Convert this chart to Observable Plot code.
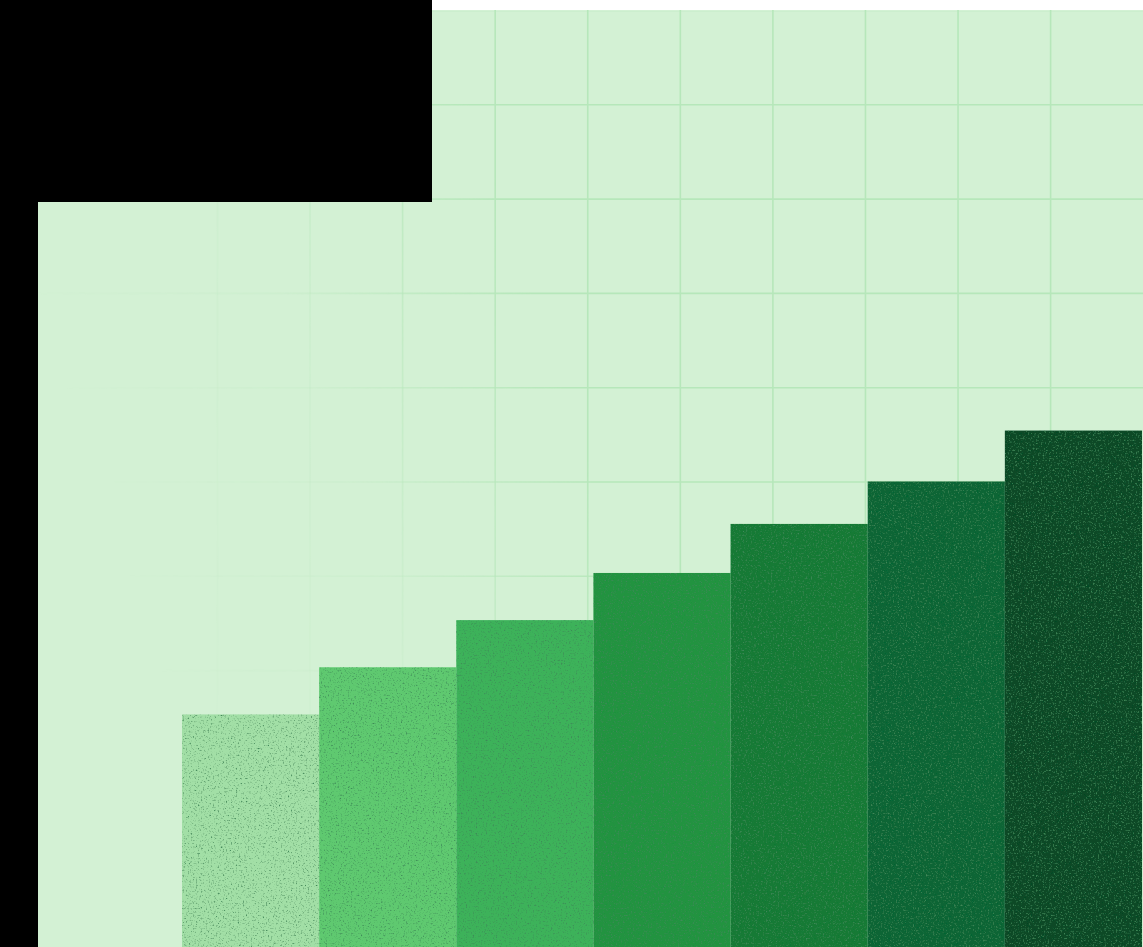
<!DOCTYPE html>
<html>
<head>
<meta charset="utf-8">
<script src="https://cdn.jsdelivr.net/npm/d3@7"></script>
<script src="https://cdn.jsdelivr.net/npm/@observablehq/plot@0.6"></script>
<style>
  html, body { margin: 0; padding: 0; background: #ffffff; overflow: hidden; width: 1143px; height: 947px; }
  #chart { position: absolute; left: 38px; top: 10px; }
  .blk { position: absolute; background: #000; z-index: 5; }
</style>
</head>
<body>
<div id="chart"></div>
<div class="blk" style="left:0;top:0;width:432px;height:202px"></div>
<div class="blk" style="left:0;top:0;width:38px;height:947px"></div>
<script>
// ---- data ----
const categories = ["1", "2", "3", "4", "5", "6", "7"];
const values = [2.53, 3.03, 3.53, 4.03, 4.55, 5.0, 5.54];
const colors = ["#a2dfa6", "#5fc970", "#3db25a", "#23933f", "#187a36", "#0f6535", "#0a4a26"];
const gridXTicks = [0.255, 0.93, 1.605, 2.28, 2.955, 3.63, 4.305, 4.98, 5.655, 6.33];
const gridYTicks = [1, 2, 3, 4, 5, 6, 7, 8, 9, 10];

const bars = categories.map((c, i) => ({category: c, start: i, end: i + 1, value: values[i]}));

const plot = Plot.plot({
  width: 1105,
  height: 937,
  margin: 0,
  style: {background: "#d3f1d4"},
  x: {type: "linear", domain: [0, 7], range: [144, 1104], axis: null},
  y: {type: "linear", domain: [0, 10], range: [943, 0], axis: null},
  color: {domain: categories, range: colors},
  marks: [
    Plot.ruleX(gridXTicks, {x: d => d, stroke: "#b6e7ba", strokeWidth: 1.6}),
    Plot.ruleY(gridYTicks, {y: d => d, stroke: "#b6e7ba", strokeWidth: 1.6}),
    Plot.rectY(bars, {x1: "start", x2: "end", y: "value", fill: "category", inset: 0})
  ]
});

document.getElementById("chart").appendChild(plot);

// grain texture + grid fade
const svg = d3.select(plot);
const defs = svg.insert("defs", ":first-child");
const grad = defs.append("linearGradient")
  .attr("id", "gridFade").attr("gradientUnits", "userSpaceOnUse")
  .attr("x1", 100).attr("y1", 600).attr("x2", 550).attr("y2", 450);
grad.append("stop").attr("offset", 0).attr("stop-color", "#fff").attr("stop-opacity", 0);
grad.append("stop").attr("offset", 0.5).attr("stop-color", "#fff").attr("stop-opacity", 0.18);
grad.append("stop").attr("offset", 1).attr("stop-color", "#fff").attr("stop-opacity", 1);
defs.append("mask").attr("id", "gridMask").attr("maskUnits", "userSpaceOnUse")
  .attr("x", 0).attr("y", 0).attr("width", 1105).attr("height", 937)
  .append("rect").attr("width", 1105).attr("height", 937).attr("fill", "url(#gridFade)");

const f = defs.append("filter").attr("id", "grain")
  .attr("x", 0).attr("y", 0).attr("width", 1).attr("height", 1);
f.append("feTurbulence").attr("type", "fractalNoise").attr("baseFrequency", 0.6)
  .attr("numOctaves", 3).attr("seed", 3).attr("result", "noise");
f.append("feColorMatrix").attr("in", "noise").attr("type", "matrix")
  .attr("values", "0 0 0 0 0.05  0 0 0 0 0.25  0 0 0 0 0.1  3.0 0 0 0 -1.65")
  .attr("result", "speck");
f.append("feComposite").attr("in", "speck").attr("in2", "SourceGraphic").attr("operator", "in").attr("result", "s2");
const m = f.append("feMerge");
m.append("feMergeNode").attr("in", "SourceGraphic");
m.append("feMergeNode").attr("in", "s2");

svg.selectAll("g[aria-label='rule']").attr("mask", "url(#gridMask)");
svg.selectAll("g[aria-label='rect'] rect").attr("filter", "url(#grain)");
</script>
</body>
</html>
